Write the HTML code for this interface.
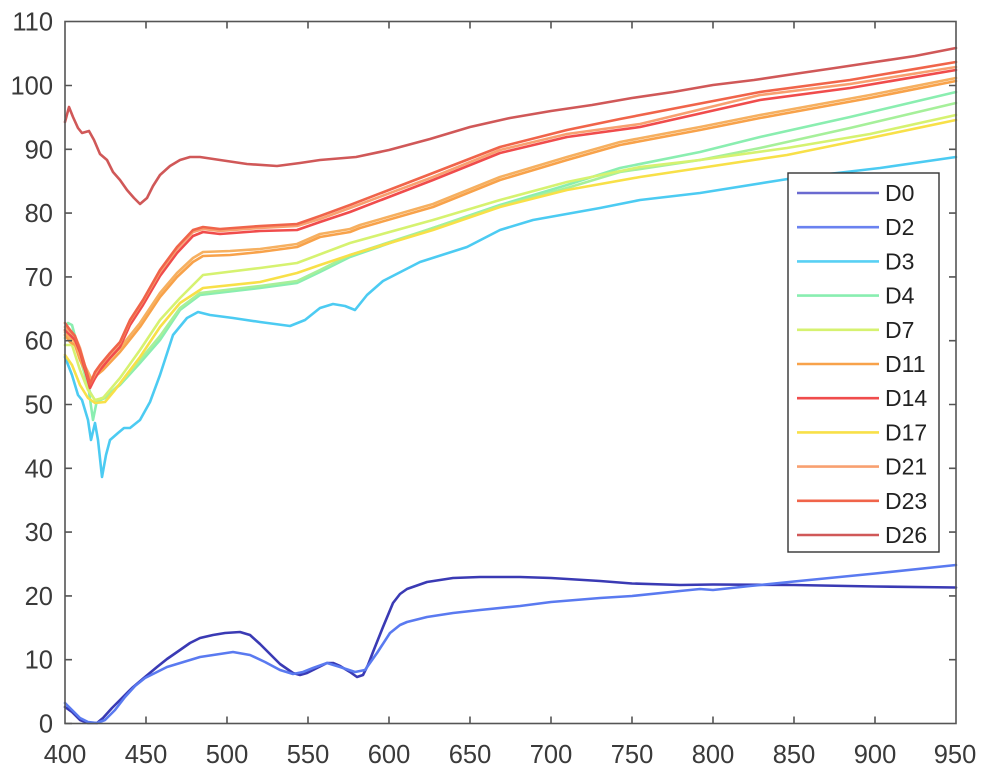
<!DOCTYPE html>
<html><head><meta charset="utf-8"><style>
html,body{margin:0;padding:0;background:#fff;}
svg{display:block;}
text{font-family:"Liberation Sans",Arial,sans-serif;}
</style></head><body>
<svg width="1000" height="772" viewBox="0 0 1000 772" xmlns="http://www.w3.org/2000/svg">
<rect width="1000" height="772" fill="#fff"/>
<g fill="none" stroke-width="2.6" stroke-linejoin="round" stroke-linecap="round">
<!-- D0 -->
<polyline stroke="#3a3ab4" points="65,707 72,712 80,720 88,723 97,723 103,718 112,708 120,700 132,688 145,677 157,667 167,659 180,650 190,643 200,638 213,635 225,633 240,632 250,635 260,644 270,654 280,664 293,673 300,675 307,673 315,669 327,663 333,663 340,666 350,672 357,677 363,675 368,665 373,652 383,627 393,603 400,594 407,589 427,582 453,578 480,577 520,577 551,578 600,581 632,583.5 680,585 713,584.5 794,585 875,586.5 956,587.5"/>
<!-- D2 -->
<polyline stroke="#5a7af0" points="65,703 72,710 80,718 88,722 97,723 105,720 115,710 125,697 135,686 145,678 167,667 200,657 233,652 250,655 265,662 280,670 293,674 303,672 313,668 327,663 340,667 355,672 365,670 377,653 390,633 400,625 407,622 427,617 453,613 480,610 520,606 551,602 600,598 632,596 680,591 700,589 713,590 750,586 794,581.5 875,573.5 956,565"/>
<!-- D3 -->
<polyline stroke="#4ccbf2" points="65,357 72,375 78,395 82,400 88,420 91,440 95,423 98,440 102,477 106,455 110,440 118,433 124,428 130,428 140,420 150,402 160,375 173,335 187,318 198,312 210,315 233,318 260,322 290,326 305,320 320,308 333,304 345,306 355,310 367,295 383,281 420,262 467,247 500,230 533,220 600,208 640,200 700,193 794,178 880,168 956,157"/>
<!-- D4 -->
<polyline stroke="#8aeeb0" points="65,330 68,323 72,325 76,340 80,357 88,385 93,420 97,400 105,397 120,385 140,363 160,340 180,310 200,295 260,288 297,283 320,272 350,257 433,228 500,205 567,185 620,168 700,152 760,137 850,117 956,92"/>
<!-- extra green -->
<polyline stroke="#a6f09a" points="65,338 70,330 76,345 82,365 90,392 96,402 105,398 120,384 140,360 160,336 180,308 200,293 260,286 297,281 320,270 350,255 433,228 500,206 567,188 620,172 700,160 760,148 850,128 956,103"/>
<!-- D7 -->
<polyline stroke="#d6f270" points="65,345 72,345 80,370 88,390 95,400 103,398 120,378 140,350 160,320 180,298 203,275 260,268 297,263 350,243 433,220 500,200 567,182 640,167 700,160 787,148 870,134 956,115"/>
<!-- D11 -->
<polyline stroke="#f8a24a" points="65,335 70,342 75,345 80,360 86,372 92,383 97,375 103,370 120,352 140,327 160,297 177,277 193,262 203,256 230,255 260,252 297,247 320,237 350,232 360,228 433,207 500,180 567,160 620,145 700,130 760,118 870,98 956,81"/>
<!-- extra orange -->
<polyline stroke="#f6b060" points="65,332 70,338 75,342 80,356 86,368 92,380 97,372 103,366 120,348 140,323 160,293 177,273 193,258 203,252 230,251 260,249 297,244 320,234 350,229 360,225 433,204 500,177 567,157 620,142 700,127 760,115 870,95 956,78"/>
<!-- D14 -->
<polyline stroke="#f04c4c" points="65,330 70,335 75,340 80,352 85,370 90,388 95,378 100,370 110,358 120,347 130,325 143,305 160,276 177,253 193,236 203,232 220,234 260,231 297,230 320,222 350,212 433,180 500,153 567,137 640,127 760,100 850,88 956,70"/>
<!-- D17 -->
<polyline stroke="#f8e048" points="65,355 72,365 80,385 88,398 95,403 105,402 115,390 140,357 160,327 180,303 203,288 260,282 297,273 320,265 350,255 433,230 500,207 567,190 640,177 700,168 787,155 870,138 956,120"/>
<!-- D21 -->
<polyline stroke="#f8a070" points="65,327 70,332 75,336 80,348 85,366 90,384 95,374 100,366 110,354 120,343 130,321 143,301 160,272 177,249 193,232 203,229 220,231 260,228 297,226 320,219 350,208 433,177 500,150 567,134 640,124 760,95 850,84 956,67"/>
<!-- D23 -->
<polyline stroke="#f0644a" points="65,323 70,330 75,336 80,350 85,366 90,384 95,372 100,365 110,353 120,342 130,320 143,300 160,270 177,247 193,230 203,227 220,229 260,226 297,224 320,216 350,205 433,173 500,147 567,130 620,119 760,92 850,80 956,62"/>
<!-- D26 -->
<polyline stroke="#d05858" points="65,122 69,107 73,117 78,128 82,133 89,131 94,140 100,154 107,160 113,172 120,180 127,190 134,198 140,204 147,198 153,186 160,175 170,166 180,160 190,157 200,157 220,160 247,164 277,166 300,163 320,160 356,157 389,150 430,139 470,127 510,118 551,111 592,105 632,98 673,92 713,85 754,80 794,74 835,68 875,62 915,56 956,48"/>
</g>
<!-- axes box -->
<rect x="65" y="21.5" width="891" height="702" fill="none" stroke="#555" stroke-width="1.6"/>
<g stroke="#555" stroke-width="1.6">
<path d="M65,723.5h7M65,659.7h7M65,595.9h7M65,532.1h7M65,468.3h7M65,404.5h7M65,340.7h7M65,276.9h7M65,213.1h7M65,149.3h7M65,85.5h7
M956,659.7h-7M956,595.9h-7M956,532.1h-7M956,468.3h-7M956,404.5h-7M956,340.7h-7M956,276.9h-7M956,213.1h-7M956,149.3h-7M956,85.5h-7"/>
<path d="M146,723.5v-7M227,723.5v-7M308,723.5v-7M389,723.5v-7M470,723.5v-7M551,723.5v-7M632,723.5v-7M713,723.5v-7M794,723.5v-7M875,723.5v-7
M146,21.5v7M227,21.5v7M308,21.5v7M389,21.5v7M470,21.5v7M551,21.5v7M632,21.5v7M713,21.5v7M794,21.5v7M875,21.5v7"/>
</g>
<g fill="#3a3a3a" font-size="25.5" text-anchor="end">
<text x="53" y="732.5">0</text>
<text x="53" y="668.7">10</text>
<text x="53" y="604.9">20</text>
<text x="53" y="541.1">30</text>
<text x="53" y="477.3">40</text>
<text x="53" y="413.5">50</text>
<text x="53" y="349.7">60</text>
<text x="53" y="285.9">70</text>
<text x="53" y="222.1">80</text>
<text x="53" y="158.3">90</text>
<text x="53" y="94.5">100</text>
<text x="53" y="30.7">110</text>
</g>
<g fill="#3a3a3a" font-size="25.5" text-anchor="middle">
<text x="65" y="763">400</text>
<text x="146" y="763">450</text>
<text x="227" y="763">500</text>
<text x="308" y="763">550</text>
<text x="389" y="763">600</text>
<text x="470" y="763">650</text>
<text x="551" y="763">700</text>
<text x="632" y="763">750</text>
<text x="713" y="763">800</text>
<text x="794" y="763">850</text>
<text x="875" y="763">900</text>
<text x="955" y="763">950</text>
</g>
<!-- legend -->
<rect x="788" y="173" width="151" height="379" fill="#fff" stroke="#333" stroke-width="1.4"/>
<g stroke-width="2.6" fill="none">
<path stroke="#6a6ad0" d="M797,193H879"/>
<path stroke="#6a82f0" d="M797,227.2H879"/>
<path stroke="#58d0f4" d="M797,261.4H879"/>
<path stroke="#88eeb0" d="M797,295.6H879"/>
<path stroke="#d6f270" d="M797,329.8H879"/>
<path stroke="#f8a24a" d="M797,364H879"/>
<path stroke="#f04c4c" d="M797,398.2H879"/>
<path stroke="#f8e048" d="M797,432.4H879"/>
<path stroke="#f8a070" d="M797,466.6H879"/>
<path stroke="#f0644a" d="M797,500.8H879"/>
<path stroke="#d05858" d="M797,535H879"/>
</g>
<g fill="#222" font-size="23">
<text x="885" y="201">D0</text>
<text x="885" y="235.2">D2</text>
<text x="885" y="269.4">D3</text>
<text x="885" y="303.6">D4</text>
<text x="885" y="337.8">D7</text>
<text x="885" y="372">D11</text>
<text x="885" y="406.2">D14</text>
<text x="885" y="440.4">D17</text>
<text x="885" y="474.6">D21</text>
<text x="885" y="508.8">D23</text>
<text x="885" y="543">D26</text>
</g>
</svg>
</body></html>
